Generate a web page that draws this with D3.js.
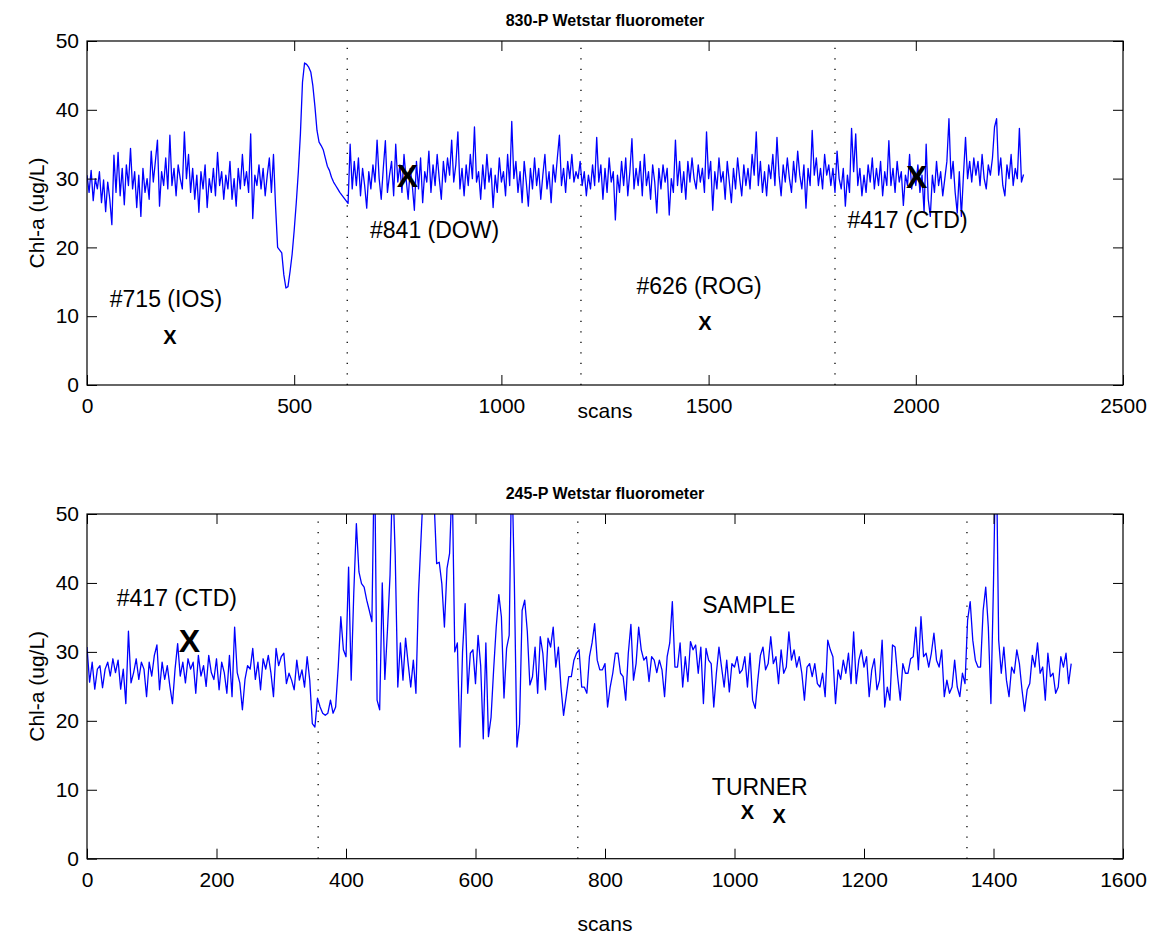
<!DOCTYPE html>
<html>
<head>
<meta charset="utf-8">
<script src="https://cdn.jsdelivr.net/npm/d3@7"></script>
<style>
  body { margin: 0; background: #fff; }
  text { font-family: "Liberation Sans", Arial, Helvetica, sans-serif; }
</style>
</head>
<body>
<svg id="chart" width="1156" height="936"></svg>
<script>
// 830-P fluorometer, one value every 5 scans (0 .. 2260)
const topStep = 5;
const topChl = [
  30.5, 28.0, 31.2, 26.8, 30.0, 28.5, 31.0, 26.5, 29.8, 25.2,
  29.5, 27.0, 23.3, 33.4, 28.0, 33.8, 27.5, 31.5, 26.2, 32.0,
  29.0, 34.4, 28.5, 31.0, 25.8, 30.5, 24.5, 31.5, 28.0, 30.0,
  27.0, 34.0, 29.5, 32.5, 35.6, 26.0, 31.0, 29.0, 33.0, 28.5,
  36.3, 29.0, 31.5, 27.5, 32.0, 30.0, 28.5, 36.8, 30.0, 33.5,
  28.0, 31.5, 27.0, 30.5, 25.1, 31.0, 28.5, 32.0, 25.8, 30.0,
  28.0, 31.5, 27.5, 33.8, 29.0, 31.0, 27.0, 30.5, 28.5, 32.5,
  27.0, 30.0, 26.0, 31.5, 28.5, 33.5, 29.0, 31.0, 28.0, 36.5,
  24.2, 30.5, 29.0, 32.0, 28.5, 31.5, 27.5, 30.5, 33.0, 28.0,
  33.5,
  // bump 455 .. 630
  26.0, 20.0, 19.6, 19.2, 16.0, 14.1, 14.3, 16.5, 19.0, 22.5,
  26.5, 31.0, 36.5, 44.0, 46.8, 46.6, 46.2, 45.5, 43.5, 40.5,
  37.0, 35.3, 34.8, 34.2, 33.0, 31.8, 31.2, 30.2, 29.5, 29.0,
  28.5, 28.0, 27.6, 27.2, 26.8, 26.4,
  // 635 .. 2260
  35.0, 28.5, 32.5, 29.0, 33.0, 27.5, 31.5, 29.0, 25.7, 31.0,
  28.5, 32.0, 29.5, 35.6, 30.0, 27.0, 31.5, 35.5, 28.0, 30.5,
  32.5, 27.5, 35.0, 29.5, 32.0, 28.0, 33.5, 30.0, 27.0, 31.5,
  29.0, 25.4, 32.5, 28.5, 33.0, 26.5, 31.0, 29.5, 34.0, 28.0,
  32.0, 29.0, 33.5, 30.0, 27.0, 32.5, 29.5, 33.0, 30.5, 35.6,
  29.5, 32.0, 36.8, 28.5, 31.5, 27.5, 32.0, 29.0, 33.5, 30.0,
  37.5, 29.5, 31.0, 27.0, 32.0, 28.5, 33.5, 29.5, 31.5, 25.8,
  30.5, 28.0, 33.0, 29.5, 31.0, 27.5, 33.5, 29.0, 38.3, 30.0,
  32.5, 28.0, 31.0, 26.5, 32.5, 29.5, 26.0, 31.5, 28.5, 33.0,
  29.0, 31.5, 27.0, 30.5, 33.5, 28.5, 31.0, 26.5, 32.0, 29.5,
  33.0, 36.3, 29.0, 31.5, 28.0, 32.5, 30.0, 33.5, 29.5, 31.0,
  30.0, 32.5, 29.0, 31.0, 27.5, 30.5, 28.5, 32.0, 29.0, 36.0,
  29.5, 32.0, 27.0, 31.5, 28.0, 33.0, 29.5, 31.0, 24.0, 30.5,
  28.0, 32.5, 29.0, 33.0, 27.5, 31.0, 35.8, 28.5, 31.5, 29.0,
  32.5, 27.5, 33.5, 29.0, 31.0, 27.0, 32.0, 29.5, 25.0, 31.5,
  28.5, 32.0, 29.5, 31.5, 24.7, 30.0, 28.0, 35.6, 29.0, 32.5,
  28.0, 31.0, 27.0, 32.5, 29.5, 33.0, 30.0, 28.5, 32.0, 29.5,
  31.5, 28.0, 36.8, 30.0, 32.5, 25.4, 31.0, 28.5, 33.0, 29.5,
  31.0, 27.0, 32.5, 29.5, 26.5, 31.5, 28.5, 33.0, 30.0, 27.5,
  32.0, 29.0, 31.5, 28.5, 33.5, 30.5, 36.8, 29.0, 32.5, 28.0,
  31.0, 27.5, 32.0, 30.0, 33.5, 29.0, 36.0, 30.5, 27.5, 32.0,
  29.5, 33.0, 30.0, 28.0, 32.5, 29.5, 34.0, 30.5, 28.5, 32.0,
  25.7, 31.5, 29.0, 37.0, 30.5, 33.0, 29.0, 31.5, 28.5, 33.5,
  30.5, 32.0, 29.0, 31.5, 28.0, 34.0, 30.0, 28.5, 31.5, 26.0,
  30.5, 28.0, 37.3, 31.0, 36.5, 29.0, 31.5, 27.5, 30.5, 28.0,
  32.0, 29.5, 33.0, 28.5, 31.5, 29.0, 32.5, 27.5, 31.0, 29.0,
  35.5, 29.0, 31.5, 28.0, 32.5, 29.5, 31.0, 26.1, 30.5, 29.0,
  33.5, 28.5, 31.0, 29.0, 32.0, 28.0, 30.5, 25.1, 35.0, 27.0,
  24.5, 30.5, 28.0, 32.5, 29.0, 31.0, 27.5, 30.0, 32.5, 38.7,
  30.0, 32.5, 28.0, 25.0, 31.0, 24.5, 30.5, 36.0, 30.0, 32.5,
  29.5, 33.0, 30.5, 32.5, 29.0, 33.5, 30.0, 28.5, 32.0, 30.5,
  33.0, 37.5, 38.7, 30.5, 33.0, 29.0, 27.5, 32.0, 30.0, 33.5,
  29.0, 31.5, 30.0, 37.3, 29.5, 30.6
];

// 245-P fluorometer, one value every 4 scans (0 .. 1520)
const bottomStep = 4;
const bottomChl = [
  30.7, 25.6, 28.5, 24.6, 27.5, 28.0, 24.8, 27.5, 28.5, 26.5,
  29.0, 27.0, 28.8, 24.6, 27.5, 22.5, 33.0, 25.5, 27.0, 29.0,
  26.0, 28.5, 27.5, 23.5, 28.5, 26.5, 29.5, 31.0, 24.5, 28.5,
  26.0, 28.0, 25.0, 22.5, 27.5, 31.2, 26.5, 28.5, 25.5, 29.0,
  27.5, 28.5, 24.0, 29.5, 26.5, 28.0, 25.0, 29.5, 27.0, 26.0,
  29.0, 24.5, 28.5, 27.0, 24.0, 29.5, 23.5, 33.6, 27.0, 25.5,
  21.6, 26.0, 28.0, 27.5, 30.5, 26.0, 28.5, 24.5, 29.0, 27.5,
  29.5, 27.0, 23.5, 30.5, 28.0,
  29.3, 29.8, 25.4, 26.9, 25.9, 24.5, 28.8, 25.9, 27.4, 24.9,
  29.3, 25.9, 19.6, 19.1, 23.3, 22.0, 21.1, 20.8, 21.1, 23.0,
  21.1, 22.0, 27.8, 35.1, 30.3, 29.3, 42.3, 25.9, 38.5, 48.6,
  41.6, 39.9, 39.4, 37.5, 36.0, 34.4, 60.0, 23.0, 21.6, 40.0,
  26.0, 33.1, 41.1, 56.0, 44.0, 24.9, 31.3, 25.9, 32.0, 28.3,
  24.9, 28.8, 24.0, 38.5, 46.7, 55.0, 60.0, 62.0, 60.0, 52.0,
  42.8, 43.0, 39.9, 33.6, 42.1, 44.3, 55.0, 30.0, 31.3, 16.2,
  30.0, 37.0, 24.0, 29.8, 30.3, 25.4, 32.4, 28.0, 17.4, 31.3,
  17.7, 20.5, 27.4, 33.6, 38.3, 35.1, 23.3, 30.5, 32.4, 58.0,
  40.0, 16.2, 19.5, 36.0, 37.5, 33.0, 25.2, 26.4, 30.7, 24.0,
  32.2, 29.8, 24.5, 32.0, 30.7, 33.6, 27.8, 30.7, 24.9, 20.8,
  23.5, 26.4, 26.4, 28.8, 29.8, 30.3, 24.9, 24.9, 24.0, 29.3,
  31.3, 34.1, 28.8, 27.4, 27.4, 28.3, 22.0, 24.9, 26.9, 29.8,
  29.8, 26.9, 26.4, 23.0, 29.8, 34.0, 25.9, 28.3, 33.6, 30.3,
  28.8, 29.3, 25.7, 29.3, 28.8,
  27.0, 28.8, 27.4, 23.5, 29.3, 31.3, 37.3, 27.8, 27.8, 31.3,
  24.9, 29.3, 25.7, 31.5, 30.3, 31.0, 26.9, 30.7, 22.5, 30.5,
  28.8, 28.3, 22.0, 26.9, 30.7, 27.8, 24.9, 28.8, 24.2, 28.3,
  27.8, 29.3, 26.9, 27.4, 29.3, 24.9, 29.8, 23.0, 21.8, 25.9,
  29.5, 30.7, 27.4, 28.3, 32.2, 28.3, 29.3, 25.4, 30.3, 26.9,
  27.8, 32.9, 28.8, 30.3, 27.8, 29.3, 26.9, 23.0, 27.8, 28.3,
  26.4, 28.3, 25.4, 24.9, 26.9, 23.5, 31.7, 30.3, 29.3, 22.5,
  27.4, 26.0, 28.8, 26.9, 29.8,
  25.4, 32.9, 25.4, 28.8, 30.3, 27.8, 29.3, 23.5, 27.4, 29.0,
  24.5, 25.9, 31.7, 22.0, 24.9, 23.0, 31.0, 30.7, 26.4, 23.0,
  28.3, 26.9, 26.9, 29.0, 29.3, 33.6, 27.4, 35.1, 29.3, 29.8,
  27.8, 29.8, 32.7, 28.8, 27.8, 30.3, 23.5, 25.9, 24.0, 24.9,
  28.8, 24.9, 23.5, 26.9, 25.4, 34.6, 37.3, 31.7, 28.8, 27.8,
  27.8, 36.0, 39.4, 33.6, 22.5, 40.0, 62.0, 31.7, 26.9, 30.7,
  25.9, 23.5, 27.8, 26.9, 30.3, 28.3, 24.5, 21.4, 24.5, 25.4,
  29.5, 27.8, 31.3, 26.9, 27.8, 23.0, 29.8, 26.4, 26.9, 24.0,
  24.9, 29.3, 27.8, 29.8, 25.4, 28.3
];

// station boundaries (dotted lines), in scans
const topDividers = [628, 1192, 1805];
const bottomDividers = [357, 758, 1359];

// sample values drawn as X, and their labels
const topSamples = [
  { scan: 200, chl: 7.0, big: false },
  { scan: 773, chl: 30.5, big: true },
  { scan: 1491, chl: 9.0, big: false },
  { scan: 2002, chl: 30.3, big: true }
];
const topLabels = [
  { text: "#715 (IOS)", scan: 55, chl: 12.6 },
  { text: "#841 (DOW)", scan: 683, chl: 22.6 },
  { text: "#626 (ROG)", scan: 1326, chl: 14.4 },
  { text: "#417 (CTD)", scan: 1835, chl: 24.0 }
];
const bottomSamples = [
  { scan: 158, chl: 31.6, big: true },
  { scan: 1020, chl: 6.8, big: false },
  { scan: 1069, chl: 6.2, big: false }
];
const bottomLabels = [
  { text: "#417 (CTD)", scan: 46, chl: 37.9 },
  { text: "SAMPLE", scan: 950, chl: 36.9 },
  { text: "TURNER", scan: 965, chl: 10.4 }
];

const topTicks = [0, 500, 1000, 1500, 2000, 2500];
const bottomTicks = [0, 200, 400, 600, 800, 1000, 1200, 1400, 1600];
const yTicks = [0, 10, 20, 30, 40, 50];

const svg = d3.select("#chart");
const left = 87, right = 1123;

function drawPanel(o) {
  const x = d3.scaleLinear().domain([0, o.xMax]).range([left, right]);
  const y = d3.scaleLinear().domain([0, 50]).range([o.bottom, o.top]);
  const g = svg.append("g");

  g.append("clipPath").attr("id", o.id)
    .append("rect")
    .attr("x", left).attr("y", o.top)
    .attr("width", right - left).attr("height", o.bottom - o.top);

  // dotted station lines
  g.selectAll(".div").data(o.dividers).enter().append("line")
    .attr("x1", d => x(d)).attr("x2", d => x(d))
    .attr("y1", o.bottom).attr("y2", o.top)
    .attr("stroke", "#000").attr("stroke-width", 1.3)
    .attr("stroke-dasharray", "1.3,9.2");

  // signal
  const line = d3.line()
    .x((d, i) => x(i * o.step))
    .y(d => y(d));
  g.append("path").datum(o.values)
    .attr("clip-path", `url(#${o.id})`)
    .attr("d", line)
    .attr("fill", "none")
    .attr("stroke", "#0000ff")
    .attr("stroke-width", 1.3)
    .attr("stroke-linejoin", "round");

  // axes, MATLAB style ticks pointing in
  const fmt = d3.format("d");
  const styleAxis = sel => {
    sel.select(".domain").remove();
    sel.selectAll("line").attr("stroke", "#000");
    sel.attr("font-family", null).attr("font-size", 21);
    sel.selectAll("text").attr("fill", "#000");
  };
  g.append("g").attr("transform", `translate(0,${o.bottom})`)
    .call(d3.axisBottom(x).tickValues(o.xTicks).tickFormat(fmt).tickSize(-10).tickPadding(13))
    .call(styleAxis);
  g.append("g").attr("transform", `translate(0,${o.top})`)
    .call(d3.axisTop(x).tickValues(o.xTicks).tickFormat("").tickSize(-10))
    .call(styleAxis);
  g.append("g").attr("transform", `translate(${left},0)`)
    .call(d3.axisLeft(y).tickValues(yTicks).tickFormat(fmt).tickSize(-10).tickPadding(8))
    .call(styleAxis);
  g.append("g").attr("transform", `translate(${right},0)`)
    .call(d3.axisRight(y).tickValues(yTicks).tickFormat("").tickSize(-10))
    .call(styleAxis);

  g.append("rect")
    .attr("x", left).attr("y", o.top)
    .attr("width", right - left).attr("height", o.bottom - o.top)
    .attr("fill", "none").attr("stroke", "#000").attr("stroke-width", 1.2);

  // annotations
  g.selectAll(".lab").data(o.labels).enter().append("text")
    .attr("x", d => x(d.scan)).attr("y", d => y(d.chl))
    .attr("dy", "0.36em")
    .attr("font-size", 23)
    .text(d => d.text);

  g.selectAll(".smp").data(o.samples).enter().append("text")
    .attr("x", d => x(d.scan)).attr("y", d => y(d.chl))
    .attr("dy", "0.36em")
    .attr("text-anchor", "middle")
    .attr("font-weight", "bold")
    .attr("font-size", d => d.big ? 32 : 20)
    .text("X");

  // titles and labels
  g.append("text")
    .attr("x", (left + right) / 2).attr("y", o.top - 15)
    .attr("text-anchor", "middle")
    .attr("font-weight", "bold").attr("font-size", 16)
    .text(o.title);

  g.append("text")
    .attr("x", (left + right) / 2).attr("y", o.bottom + o.scansDy)
    .attr("text-anchor", "middle").attr("font-size", 21)
    .text("scans");

  g.append("text")
    .attr("transform", `translate(44,${(o.top + o.bottom) / 2}) rotate(-90)`)
    .attr("text-anchor", "middle").attr("font-size", 21)
    .text("Chl-a (ug/L)");
}

drawPanel({
  id: "clipTop", top: 41, bottom: 385, xMax: 2500,
  xTicks: topTicks, values: topChl, step: topStep,
  dividers: topDividers, samples: topSamples, labels: topLabels,
  title: "830-P Wetstar fluorometer", scansDy: 33
});

drawPanel({
  id: "clipBottom", top: 514, bottom: 858.7, xMax: 1600,
  xTicks: bottomTicks, values: bottomChl, step: bottomStep,
  dividers: bottomDividers, samples: bottomSamples, labels: bottomLabels,
  title: "245-P Wetstar fluorometer", scansDy: 72
});
</script>
</body>
</html>
